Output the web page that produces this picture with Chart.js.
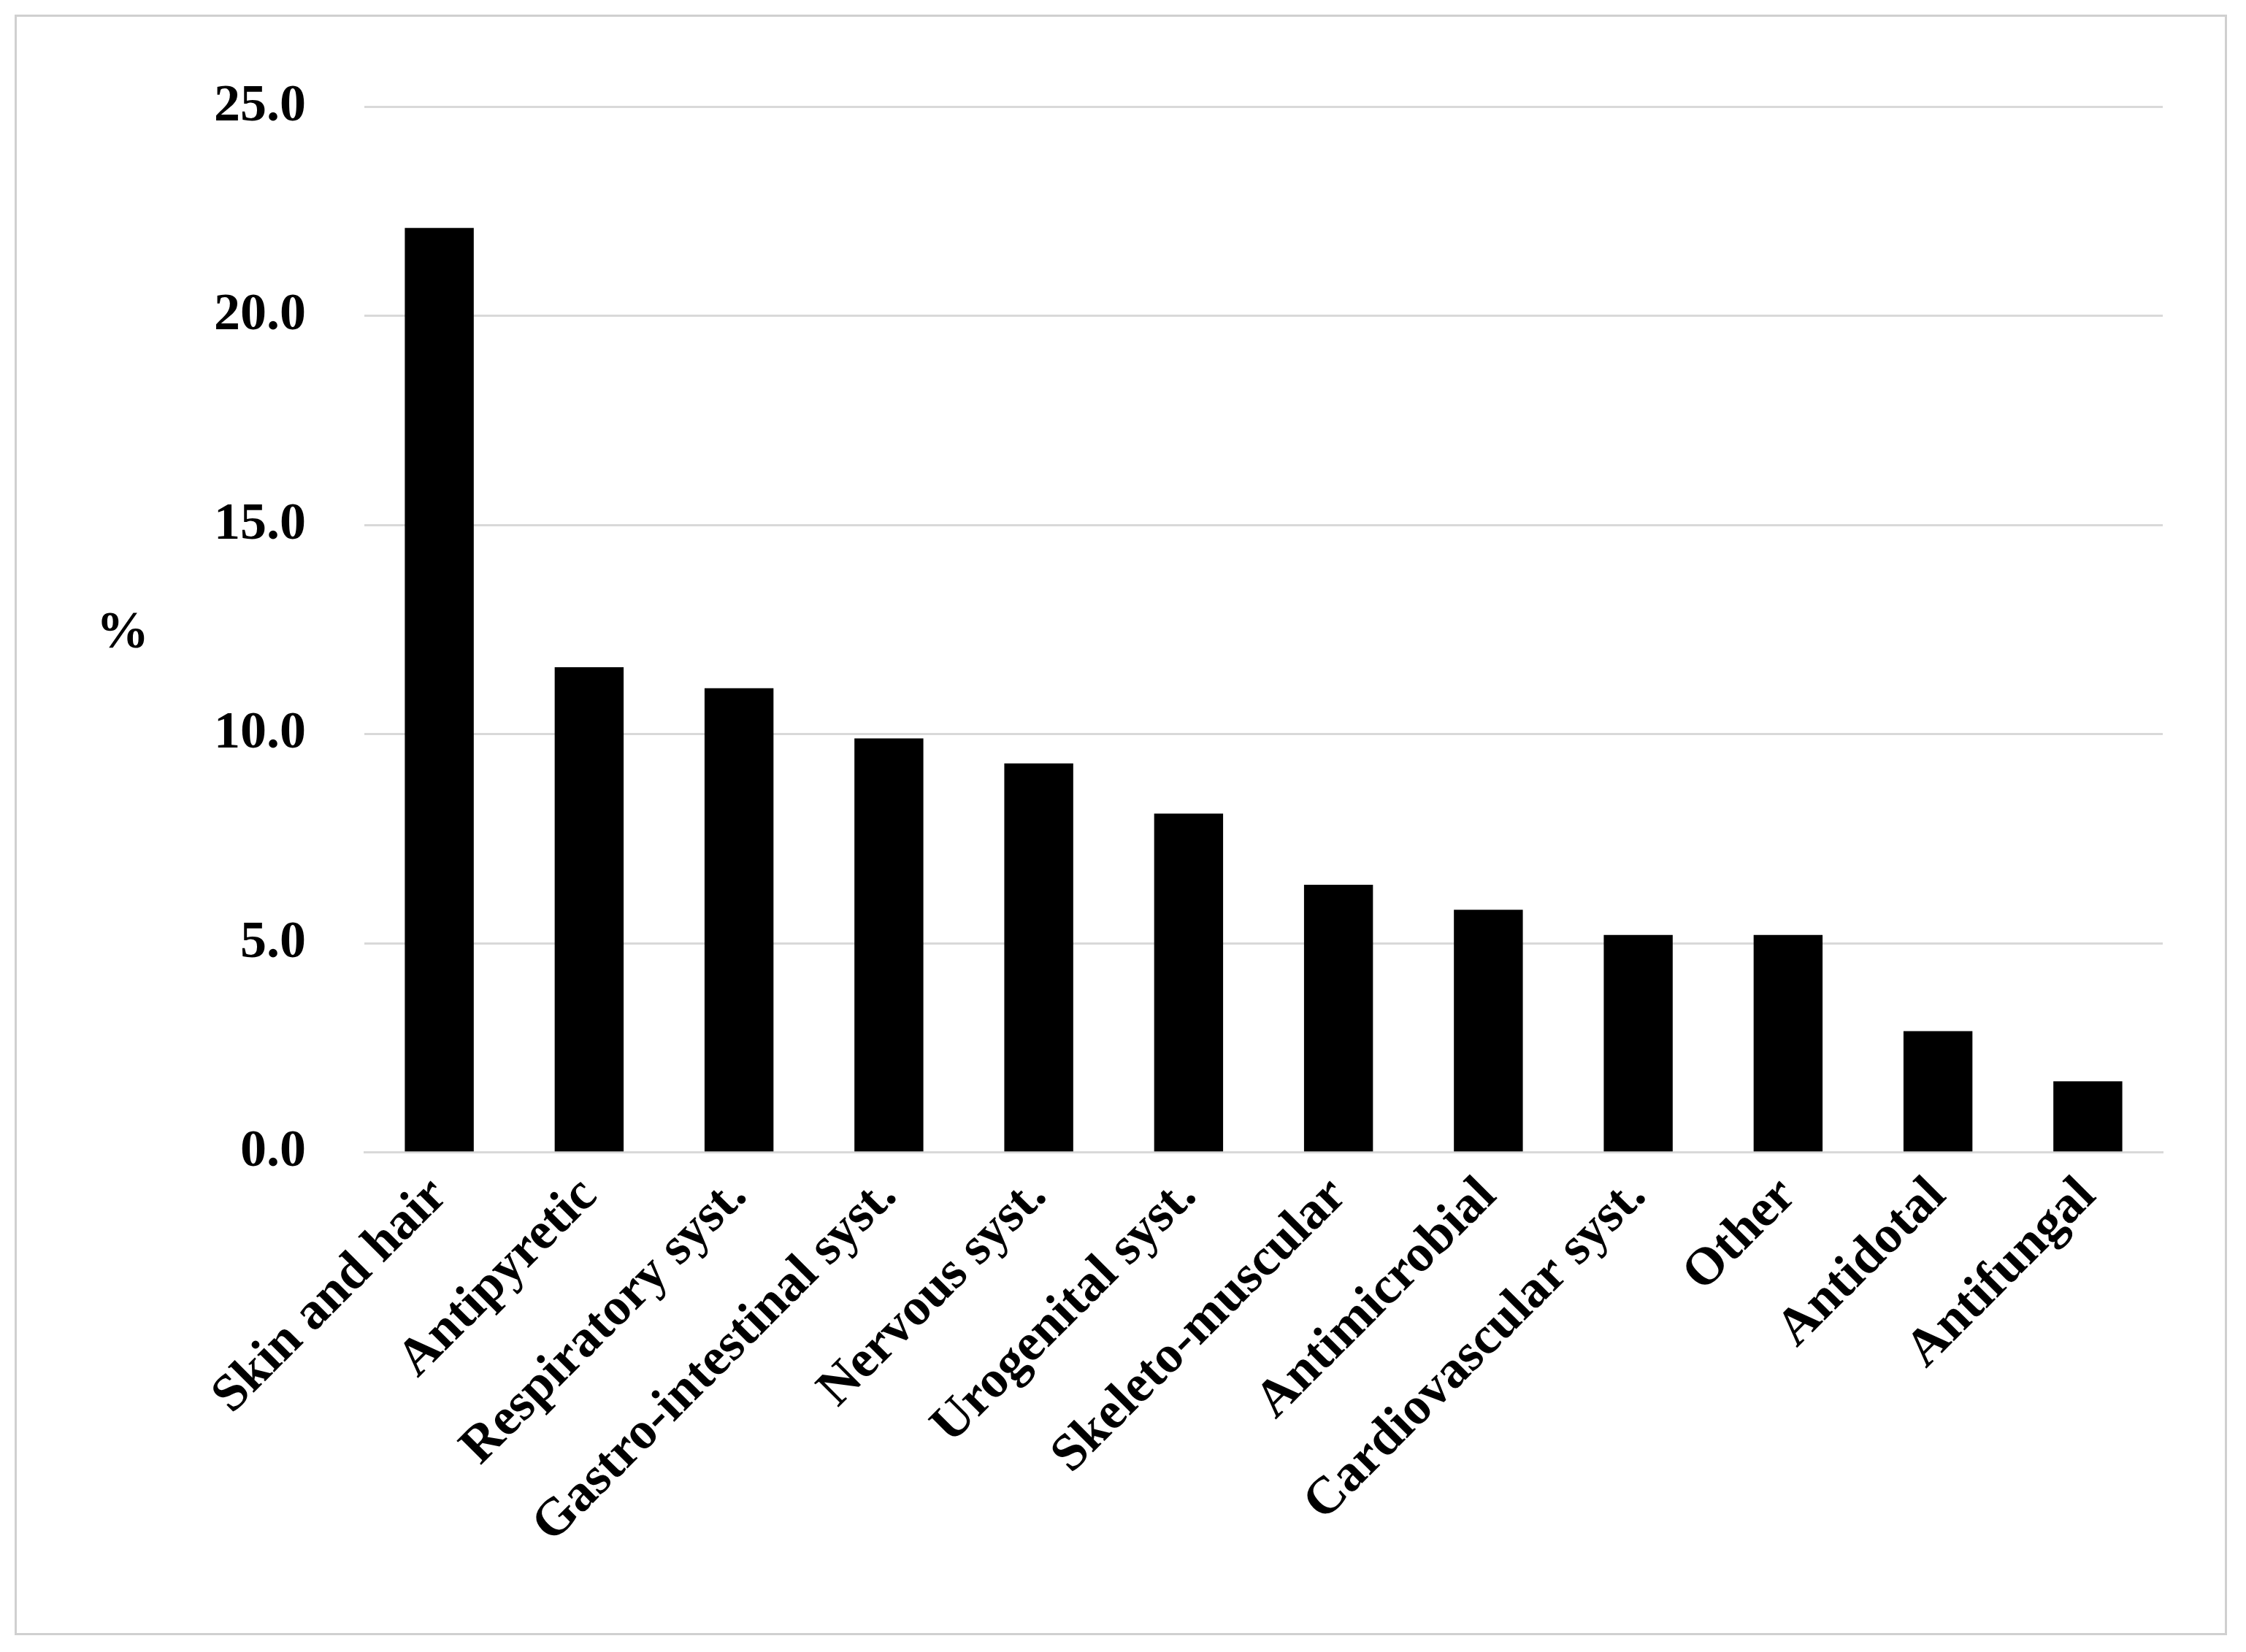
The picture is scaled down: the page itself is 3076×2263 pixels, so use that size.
<!DOCTYPE html>
<html>
<head>
<meta charset="utf-8">
<script src="https://cdn.jsdelivr.net/npm/chart.js@4"></script>
<style>
  html, body { margin: 0; background: #fff; }
  #wrap { position: absolute; left: 20px; top: 20px; width: 3030px; height: 2220px;
          border: 3px solid #d0d0d0; box-sizing: border-box; }
</style>
</head>
<body>
<div id="wrap"><canvas id="chart"></canvas></div>
<script>
// categories and values
const categories = ["Skin and hair", "Antipyretic", "Respiratory syst.", "Gastro-intestinal syst.",
  "Nervous syst.", "Urogenital syst.", "Skeleto-muscular", "Antimicrobial",
  "Cardiovascular syst.", "Other", "Antidotal", "Antifungal"];
const percents = [22.1, 11.6, 11.1, 9.9, 9.3, 8.1, 6.4, 5.8, 5.2, 5.2, 2.9, 1.7];
const yTicks = [0, 5, 10, 15, 20, 25];

const FONT = "'Liberation Serif', 'DejaVu Serif', serif";

// draws the horizontal "%" axis title
const percentLabel = {
  id: "percentLabel",
  afterDraw(chart) {
    const ctx = chart.ctx;
    const y = chart.scales.y;
    ctx.save();
    ctx.font = "bold 72px " + FONT;
    ctx.fillStyle = "#000";
    ctx.textAlign = "center";
    ctx.textBaseline = "middle";
    ctx.fillText("%", 145, y.getPixelForValue(12.4));
    ctx.restore();
  }
};

new Chart(document.getElementById("chart"), {
  type: "bar",
  data: {
    labels: categories,
    datasets: [{
      data: percents,
      backgroundColor: "#000",
      barPercentage: 0.46,
      categoryPercentage: 1.0
    }]
  },
  options: {
    responsive: true,
    maintainAspectRatio: false,
    animation: false,
    layout: { padding: { left: 190, right: 85, top: 55, bottom: 95 } },
    plugins: { legend: { display: false }, tooltip: { enabled: false } },
    scales: {
      x: {
        grid: { display: false },
        border: { color: "#d9d9d9", width: 3 },
        ticks: {
          color: "#000", font: { family: FONT, size: 72, weight: "bold" },
          minRotation: 45, maxRotation: 45, padding: 10
        }
      },
      y: {
        min: 0, max: 25,
        afterBuildTicks(axis) { axis.ticks = yTicks.map(v => ({ value: v })); },
        grid: { color: "#d9d9d9", lineWidth: 3, drawTicks: false },
        border: { display: false },
        ticks: {
          color: "#000", font: { family: FONT, size: 72, weight: "bold" },
          padding: 80,
          callback: v => v.toFixed(1)
        }
      }
    }
  },
  plugins: [percentLabel]
});
</script>
</body>
</html>
